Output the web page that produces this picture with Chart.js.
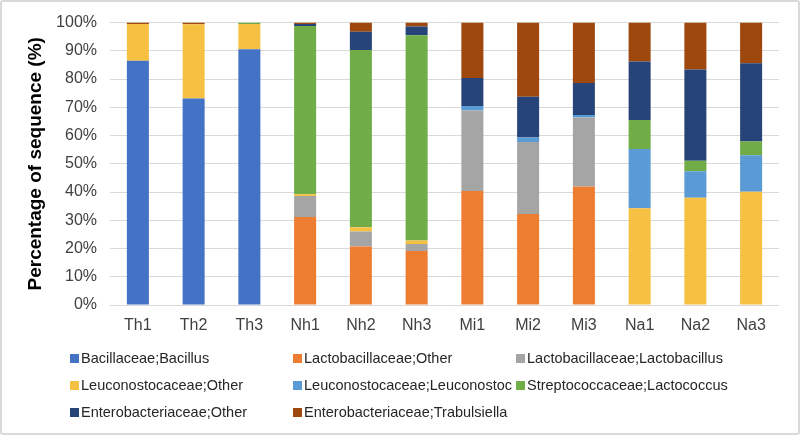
<!DOCTYPE html>
<html lang="en">
<head>
    <meta charset="UTF-8">
    <title>Percentage of sequence</title>
    <script src="https://cdn.jsdelivr.net/npm/chart.js@4"></script>
    <style>
        html, body { margin: 0; padding: 0; background: #fff; }
        #frame {
            position: relative;
            width: 800px;
            height: 435px;
            box-sizing: border-box;
            border: 2px solid #dadada;
            border-radius: 3px;
            overflow: hidden;
        }
        #chart { position: absolute; left: -2px; top: -2px; }
        .leg {
            position: absolute;
            font-family: 'Liberation Sans', Arial, sans-serif;
            font-size: 14.5px;
            color: #262626;
            white-space: nowrap;
            line-height: 18px;
        }
        .leg i {
            display: inline-block;
            width: 9px;
            height: 9px;
            margin-right: 2px;
            vertical-align: 0px;
        }
    </style>
</head>
<body>
    <div id="frame">
        <canvas id="chart" width="800" height="435"></canvas>
    </div>
<script>
    // amostras
    const categories = ['Th1', 'Th2', 'Th3', 'Nh1', 'Nh2', 'Nh3', 'Mi1', 'Mi2', 'Mi3', 'Na1', 'Na2', 'Na3'];

    // % de sequencias por taxon
    const bacillus       = [86.5, 73.1, 90.6, 0, 0, 0, 0, 0, 0, 0, 0, 0];
    const lactoOther     = [0, 0, 0, 31.2, 20.7, 19.1, 40.4, 32.2, 42.0, 0, 0, 0];
    const lactobacillus  = [0, 0, 0, 7.4, 5.3, 2.5, 28.5, 25.5, 24.4, 0, 0, 0];
    const leucOther      = [13.0, 26.3, 8.9, 0.6, 1.5, 1.2, 0, 0, 0, 34.3, 38.0, 40.1];
    const leuconostoc    = [0, 0, 0, 0, 0, 0, 1.6, 1.6, 0.9, 20.9, 9.4, 12.9];
    const lactococcus    = [0, 0, 0.5, 59.6, 62.8, 72.7, 0, 0, 0, 10.3, 3.7, 4.9];
    const enteroOther    = [0, 0, 0, 0.7, 6.5, 3.1, 9.9, 14.4, 11.3, 20.7, 32.3, 27.7];
    const trabulsiella   = [0.5, 0.6, 0, 0.5, 3.2, 1.4, 19.6, 26.3, 21.4, 13.8, 16.6, 14.4];

    const seriesNames = [
        'Bacillaceae;Bacillus',
        'Lactobacillaceae;Other',
        'Lactobacillaceae;Lactobacillus',
        'Leuconostocaceae;Other',
        'Leuconostocaceae;Leuconostoc',
        'Streptococcaceae;Lactococcus',
        'Enterobacteriaceae;Other',
        'Enterobacteriaceae;Trabulsiella'
    ];
    const seriesData = [bacillus, lactoOther, lactobacillus, leucOther, leuconostoc, lactococcus, enteroOther, trabulsiella];
    const yTicks = [0, 10, 20, 30, 40, 50, 60, 70, 80, 90, 100];

    const cores = ['#4472C4', '#ED7D31', '#A5A5A5', '#F6C142', '#5B9BD5', '#70AD47', '#264478', '#9E480E'];

    // legenda: 3 colunas, 3 linhas
    const legendCols = [70, 293, 516];
    const legendRows = [358, 385, 412];

    const datasets = seriesNames.map(function (nome, i) {
        return {
            label: nome,
            data: seriesData[i],
            backgroundColor: cores[i],
            borderWidth: 0,
            categoryPercentage: 1.0,
            barPercentage: 0.395
        };
    });

    const fonte = "'Liberation Sans', Arial, sans-serif";

    new Chart(document.getElementById('chart'), {
        type: 'bar',
        data: { labels: categories, datasets: datasets },
        options: {
            responsive: false,
            animation: false,
            layout: { padding: { left: 0, right: 21, top: 21, bottom: 0 } },
            plugins: {
                legend: { display: false },
                tooltip: { enabled: false }
            },
            scales: {
                x: {
                    stacked: true,
                    grid: { display: false, drawTicks: false },
                    border: { display: false },
                    ticks: {
                        padding: 11,
                        maxRotation: 0,
                        color: '#404040',
                        font: { family: fonte, size: 16 }
                    },
                    afterFit: function (scale) { scale.height = 130; }
                },
                y: {
                    stacked: true,
                    min: 0,
                    max: 100,
                    afterBuildTicks: function (scale) {
                        scale.ticks = yTicks.map(function (v) { return { value: v }; });
                    },
                    grid: { color: '#D9D9D9', lineWidth: 1, drawTicks: false },
                    border: { display: false },
                    ticks: {
                        padding: 13,
                        color: '#404040',
                        font: { family: fonte, size: 16 },
                        callback: function (v) { return v + '%'; }
                    },
                    title: {
                        display: true,
                        text: 'Percentage of sequence (%)',
                        color: '#000',
                        font: { family: fonte, size: 19, weight: 'bold' },
                        padding: { top: 24, bottom: 0 }
                    },
                    afterFit: function (scale) { scale.width = 110; }
                }
            }
        }
    });

    // legenda em html
    const frame = document.getElementById('frame');
    seriesNames.forEach(function (nome, i) {
        const el = document.createElement('div');
        el.className = 'leg';
        el.style.left = (legendCols[i % 3] - 2) + 'px';
        el.style.top = (legendRows[Math.floor(i / 3)] - 11) + 'px';
        el.innerHTML = '<i style="background:' + cores[i] + '"></i>' + nome;
        frame.appendChild(el);
    });
</script>
</body>
</html>
